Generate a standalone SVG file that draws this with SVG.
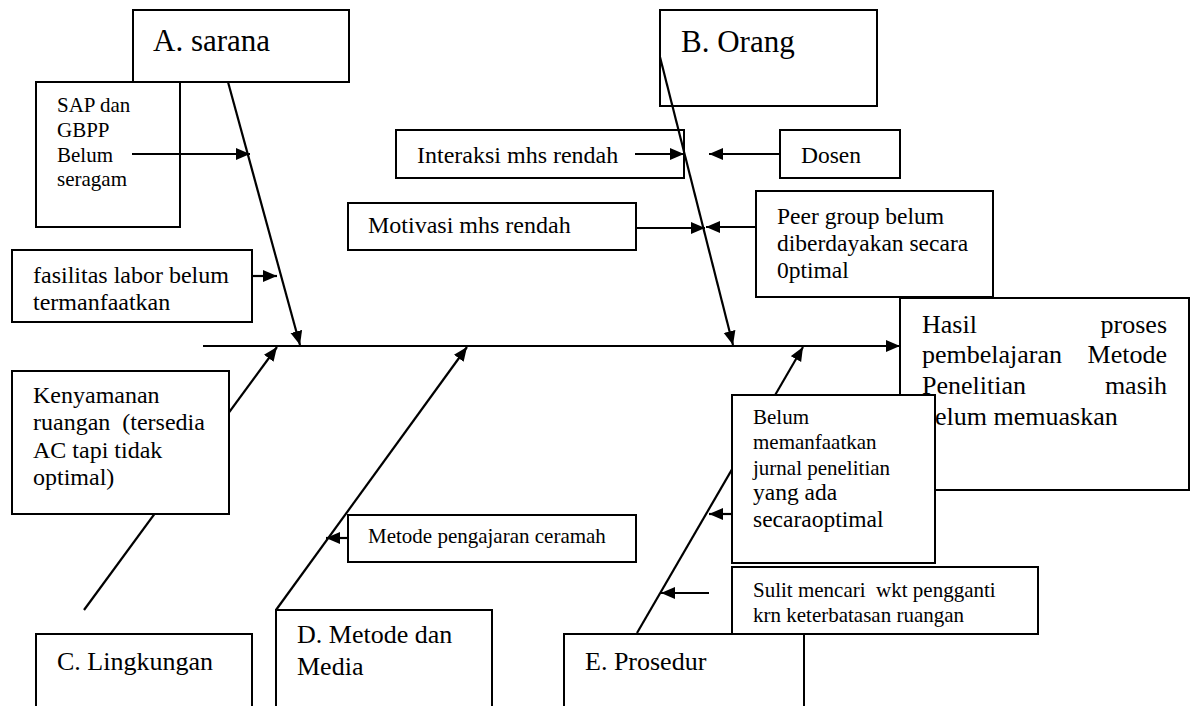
<svg xmlns="http://www.w3.org/2000/svg" width="1195" height="706" viewBox="0 0 1195 706">
<style>
.box{fill:none;stroke:#000;stroke-width:2}
.wbox{fill:#fff;stroke:#000;stroke-width:2}
.ln{stroke:#000;stroke-width:2.2;fill:none}
.arr{marker-end:url(#ah)}
text{fill:#000}
.t31{font-size:31px}
.t26{font-size:26px}
.t24{font-size:24px}
.t23{font-size:23.5px}
.t21{font-size:21px}
</style>
<defs>
<marker id="ah" markerUnits="userSpaceOnUse" markerWidth="16" markerHeight="14" refX="14" refY="6" orient="auto">
<path d="M0,0 L14,6 L0,12 z" fill="#000"/>
</marker>
</defs>

<g id="connectors">
<line class="ln arr" x1="203" y1="346" x2="900" y2="346"/>
<line class="ln arr" x1="228" y1="82" x2="300" y2="345"/>
<line class="ln arr" x1="660" y1="57" x2="733" y2="345"/>
<line class="ln arr" x1="84" y1="610" x2="277" y2="347"/>
<line class="ln arr" x1="276" y1="610" x2="467" y2="347"/>
<line class="ln arr" x1="637" y1="633" x2="803" y2="347"/>
<line class="ln arr" x1="132" y1="154" x2="250" y2="154"/>
<line class="ln arr" x1="252" y1="276" x2="277" y2="276"/>
<line class="ln arr" x1="635" y1="154" x2="684" y2="154"/>
<line class="ln arr" x1="780" y1="154" x2="709" y2="154"/>
<line class="ln arr" x1="637" y1="228" x2="705" y2="228"/>
<line class="ln arr" x1="757" y1="227" x2="706" y2="227"/>
<line class="ln arr" x1="348" y1="538" x2="326" y2="538"/>
<line class="ln arr" x1="732" y1="514" x2="709" y2="514"/>
<line class="ln arr" x1="709" y1="593" x2="661" y2="593"/>
</g>

<g font-family="Liberation Serif, DejaVu Serif, serif">
<g id="node-a-sarana">
<rect class="box" x="133" y="10" width="216" height="72"/>
<text class="t31" x="153" y="51">A. sarana</text>
</g>

<g id="node-sap">
<rect class="box" x="36" y="82" width="144" height="145"/>
<text class="t21" x="57" y="112">SAP dan</text>
<text class="t21" x="57" y="137">GBPP</text>
<text class="t21" x="57" y="162">Belum</text>
<text class="t21" x="57" y="186">seragam</text>
</g>

<g id="node-fasilitas">
<rect class="box" x="12" y="250" width="240" height="72"/>
<text class="t24" x="33" y="283">fasilitas labor belum</text>
<text class="t24" x="33" y="310">termanfaatkan</text>
</g>

<g id="node-b-orang">
<rect class="box" x="660" y="10" width="217" height="96"/>
<text class="t31" x="681" y="52">B. Orang</text>
</g>

<g id="node-interaksi">
<rect class="box" x="396" y="130" width="288" height="48"/>
<text class="t24" x="417" y="163">Interaksi mhs rendah</text>
</g>

<g id="node-dosen">
<rect class="box" x="780" y="130" width="120" height="48"/>
<text class="t23" x="801" y="163">Dosen</text>
</g>

<g id="node-motivasi">
<rect class="box" x="348" y="203" width="288" height="47"/>
<text class="t24" x="368" y="233">Motivasi mhs rendah</text>
</g>

<g id="node-peer">
<rect class="box" x="756" y="191" width="237" height="106"/>
<text class="t23" x="777" y="224">Peer group belum</text>
<text class="t23" x="777" y="251">diberdayakan secara</text>
<text class="t23" x="777" y="278">0ptimal</text>
</g>

<g id="node-hasil">
<rect class="box" x="900" y="298" width="289" height="192"/>
<text class="t26" x="922" y="333">Hasil</text>
<text class="t26" x="1167" y="333" text-anchor="end">proses</text>
<text class="t26" x="922" y="363">pembelajaran</text>
<text class="t26" x="1167" y="363" text-anchor="end">Metode</text>
<text class="t26" x="922" y="394">Penelitian</text>
<text class="t26" x="1167" y="394" text-anchor="end">masih</text>
<text class="t26" x="922" y="425">belum memuaskan</text>
</g>

<g id="node-kenyamanan">
<rect class="wbox" x="12" y="371" width="217" height="143"/>
<text class="t24" x="33" y="403">Kenyamanan</text>
<text class="t24" x="33" y="430" xml:space="preserve">ruangan  (tersedia</text>
<text class="t24" x="33" y="458">AC tapi tidak</text>
<text class="t24" x="33" y="485">optimal)</text>
</g>

<g id="node-metode-pengajaran">
<rect class="box" x="348" y="515" width="288" height="47"/>
<text class="t21" x="368" y="543">Metode pengajaran ceramah</text>
</g>

<g id="node-belum">
<rect class="wbox" x="732" y="395" width="203" height="168"/>
<text class="t21" x="753" y="424">Belum</text>
<text class="t21" x="753" y="449">memanfaatkan</text>
<text class="t21" x="753" y="475">jurnal penelitian</text>
<text class="t23" x="753" y="500">yang ada</text>
<text class="t23" x="753" y="527">secaraoptimal</text>
</g>

<g id="node-sulit">
<rect class="box" x="732" y="567" width="306" height="67"/>
<text class="t21" x="753" y="597" xml:space="preserve">Sulit mencari  wkt pengganti</text>
<text class="t21" x="753" y="622">krn keterbatasan ruangan</text>
</g>

<g id="node-c-lingkungan">
<rect class="box" x="36" y="634" width="216" height="80"/>
<text class="t26" x="57" y="670">C. Lingkungan</text>
</g>

<g id="node-d-metode">
<rect class="box" x="276" y="610" width="216" height="104"/>
<text class="t26" x="297" y="643">D. Metode dan</text>
<text class="t26" x="297" y="675">Media</text>
</g>

<g id="node-e-prosedur">
<rect class="box" x="564" y="634" width="240" height="80"/>
<text class="t26" x="585" y="670">E. Prosedur</text>
</g>
</g>
</svg>
